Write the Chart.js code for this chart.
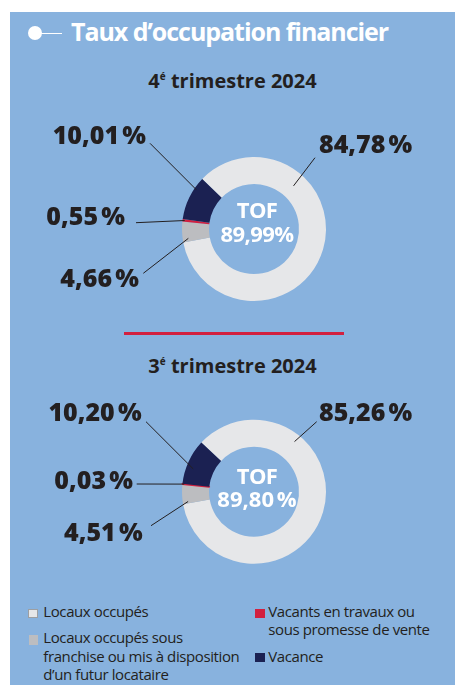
<!DOCTYPE html>
<html lang="fr"><head><meta charset="utf-8">
<script src="https://cdn.jsdelivr.net/npm/chart.js@4.4.1/dist/chart.umd.min.js"></script>
<style>
html,body{margin:0;padding:0;width:455px;height:685px;overflow:hidden;background:#fff;font-family:"Open Sans",sans-serif;}
.abs{position:absolute;}
#panel{left:10px;top:12px;width:445px;height:673px;background:#88b2de;}
#title{left:71px;top:18.5px;font-size:25px;line-height:25px;font-weight:700;color:#fff;white-space:nowrap;letter-spacing:-1.05px;}
#dot{left:28px;top:26.3px;width:14px;height:14px;border-radius:50%;background:#fff;}
#dash{left:40px;top:32.6px;width:22px;height:1.4px;background:#fff;}
.sub{left:10px;width:445px;text-align:center;font-size:20px;line-height:20px;font-weight:700;color:#231f20;white-space:nowrap;letter-spacing:0px;}
.sub .sp{font-size:10px;position:relative;top:-8px;}
#divider{left:124px;top:332px;width:220px;height:2.5px;background:#d2203f;}
.cv{left:10px;}
.leg{font-size:15px;line-height:18.3px;color:#231f20;letter-spacing:-0.4px;}
.sw{width:9.5px;height:9.5px;box-sizing:border-box;}
</style></head>
<body>
<div id="panel" class="abs"></div>
<div id="dot" class="abs"></div>
<div id="dash" class="abs"></div>
<div id="title" class="abs">Taux d’occupation financier</div>
<div id="sub1" class="abs sub" style="top:70.5px"></div>
<div id="divider" class="abs"></div>
<div id="sub2" class="abs sub" style="top:355.5px"></div>
<canvas id="c1" class="abs cv" width="445" height="220" style="top:100px"></canvas>
<canvas id="c2" class="abs cv" width="445" height="210" style="top:380px"></canvas>
<div id="legend"></div>
<script>
// ---- data ----
const categories = ["Locaux occupés", "Locaux occupés sous franchise ou mis à disposition d’un futur locataire", "Vacants en travaux ou sous promesse de vente", "Vacance"];
const quarterNumbers = ["4", "3"];
const quarterSuffix = "é";
const quarterText = " trimestre 2024";
const valuesQ4 = [84.78, 4.66, 0.55, 10.01];
const valuesQ3 = [85.26, 4.51, 0.03, 10.20];
const tofLabel = "TOF";
const tofValues = [89.99, 89.80];

// ---- styles ----
const colors = ["#e6e7e9", "#bcbdc0", "#d2203f", "#1b2152"];
const ink = "#231f20";

function fmt(v, sep){ return v.toFixed(2).replace('.', ',') + sep + '%'; }

// subtitles
[["sub1",0],["sub2",1]].forEach(([id,i])=>{
  const el = document.getElementById(id);
  el.appendChild(document.createTextNode(quarterNumbers[i]));
  const s = document.createElement('span'); s.className='sp'; s.textContent = quarterSuffix; el.appendChild(s);
  el.appendChild(document.createTextNode(quarterText));
});

// legend
const legPos = [
  {sx:28, sy:608.5, tx:43.3, ty:601.7, w:200, border:true},
  {sx:28.5, sy:635, tx:43.3, ty:628.3, w:198},
  {sx:255, sy:608.5, tx:268.3, ty:601.7, w:170},
  {sx:255, sy:652.5, tx:268.3, ty:646.7, w:170}
];
const legend = document.getElementById('legend');
categories.forEach((c,i)=>{
  const p = legPos[i];
  const sw = document.createElement('div'); sw.className='abs sw';
  sw.style.left=p.sx+'px'; sw.style.top=p.sy+'px'; sw.style.background=colors[i];
  if(p.border) sw.style.border='1px solid #9d9fa2';
  legend.appendChild(sw);
  const t = document.createElement('div'); t.className='abs leg';
  t.style.left=p.tx+'px'; t.style.top=p.ty+'px'; t.style.width=p.w+'px';
  t.textContent = c; legend.appendChild(t);
});

const leaderPlugin = {
  id:'leaders',
  afterDatasetsDraw(chart, args, o){
    const ctx = chart.ctx;
    const arcs = chart.getDatasetMeta(0).data;
    const vals = chart.data.datasets[0].data;
    ctx.save();
    arcs.forEach((arc,i)=>{
      const L = o.layout[i];
      const a = arc.startAngle + L.t*(arc.endAngle-arc.startAngle);
      const r = arc.innerRadius + L.f*(arc.outerRadius-arc.innerRadius);
      ctx.beginPath();
      ctx.moveTo(arc.x+Math.cos(a)*r, arc.y+Math.sin(a)*r);
      ctx.lineTo(arc.x+L.lx, arc.y+L.ly);
      ctx.strokeStyle=ink; ctx.lineWidth=1; ctx.stroke();
      ctx.font='800 25px "Open Sans"'; ctx.letterSpacing='-1.4px';
      ctx.fillStyle=ink; ctx.textAlign=L.align; ctx.textBaseline='alphabetic';
      ctx.fillText(fmt(vals[i], '\u202F'), arc.x+L.tx, arc.y+L.ty);
    });
    const c = arcs[0];
    ctx.fillStyle='#fff'; ctx.textAlign='center';
    ctx.font='bold 22px "Open Sans"'; ctx.letterSpacing='-0.6px';
    ctx.fillText(tofLabel, c.x+3, c.y+o.ty1);
    ctx.fillText(fmt(o.tof, o.tofSep), c.x+3, c.y+o.ty2);
    ctx.restore();
  }
};

function makeChart(id, values, tof, tofSep, layout, pad, rot, borderW, ty1, ty2){
  return new Chart(document.getElementById(id), {
    type:'doughnut',
    data:{labels:categories, datasets:[{data:values, backgroundColor:colors, borderColor:colors,
      borderWidth:borderW, hoverBorderWidth:0, hoverOffset:0, offset:0, spacing:0}]},
    options:{responsive:false, animation:false, rotation:rot, cutout:'62.5%', events:[],
      layout:{padding:pad},
      plugins:{legend:{display:false}, tooltip:{enabled:false},
        leaders:{layout, tof, tofSep, ty1, ty2}}},
    plugins:[leaderPlugin]
  });
}

makeChart('c1', valuesQ4, tofValues[0], '', [
  {t:.29, f:.5,  lx:61,     ly:-71.3, tx:65,   ty:-76.3, align:'left'},
  {t:.16, f:.79, lx:-110.7, ly:44.3,  tx:-115, ty:58,    align:'right'},
  {t:.5,  f:.92, lx:-118,   ly:-6.3,  tx:-129, ty:-4,    align:'right'},
  {t:.73, f:.92, lx:-104,   ly:-85.7, tx:-108, ty:-84.7, align:'right'}
], {left:172, right:129, top:57, bottom:19}, -46, 0, -10.7, 13.3);

makeChart('c2', valuesQ3, tofValues[1], '\u202F', [
  {t:.28, f:.72, lx:62.7,   ly:-70,   tx:65,     ty:-70.7, align:'left'},
  {t:.1,  f:.8,  lx:-103,   ly:34,    tx:-111.3, ty:49,    align:'right'},
  {t:.5,  f:.93, lx:-117.3, ly:-7.7,  tx:-121,   ty:-2.7,  align:'right'},
  {t:.39, f:.74, lx:-108,   ly:-70,   tx:-112.3, ty:-70.7, align:'right'}
], {left:171, right:128, top:38.7, bottom:25.3}, -47, [0,0,2,0], -7.4, 15.6);
</script>
</body></html>
